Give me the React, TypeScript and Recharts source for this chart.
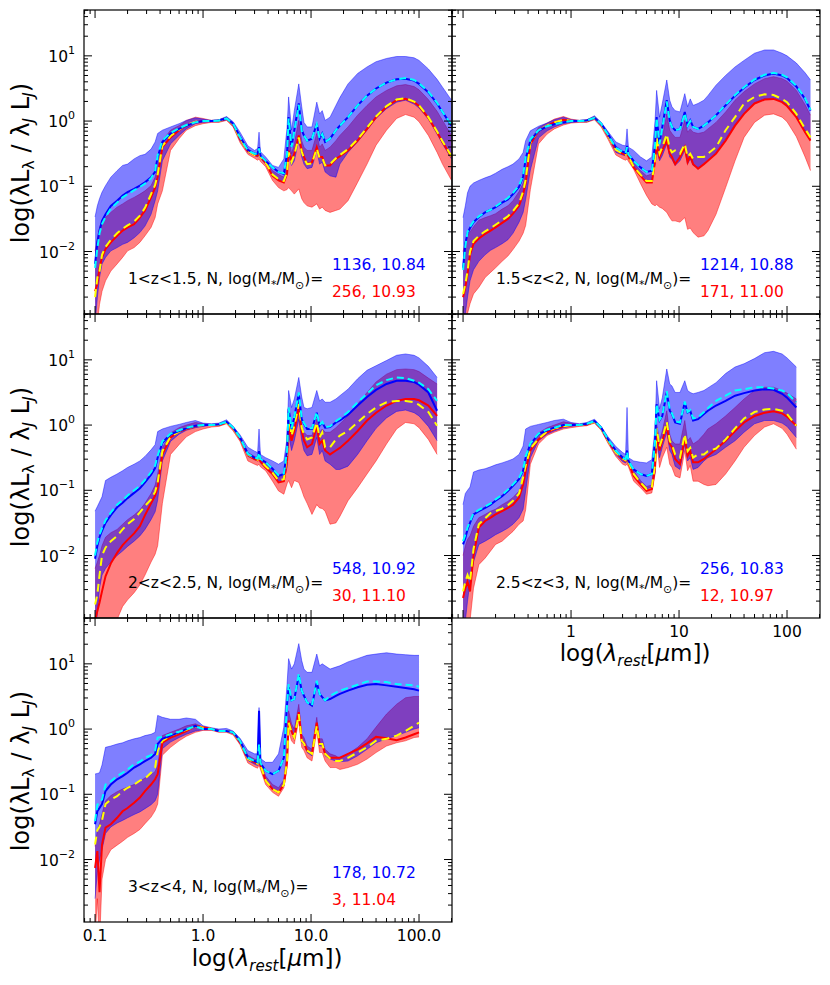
import React from "react";
import { Area, ComposedChart, Line, XAxis, YAxis } from "recharts";

// stacked SED templates, log(lambda L_lambda / lambda_J L_J) vs rest wavelength
const N = null;

const WAVE = [
  0.1, 0.105, 0.11, 0.116, 0.125, 0.14, 0.16, 0.18, 0.2, 0.23, 0.26, 0.29, 0.33, 0.36, 0.38, 0.42, 0.5, 0.6, 0.7, 0.85, 1.0,
  1.2, 1.4, 1.65, 1.9, 2.2, 2.6, 3.0, 3.2, 3.3, 3.4, 3.8, 4.4, 5.0, 5.6,
  6.0, 6.2, 6.6, 7.0, 7.7, 8.2, 8.6, 9.2, 10.2, 11.3, 12.0, 12.7, 13.5, 15, 17, 18.5,
  22, 27, 33, 40, 50, 62, 75, 90, 100, 122, 147, 165, 200,
];

// ---- 1 < z < 1.5 ----
const Z1_BHI = [
  -1.47, -1.3, -1.19, -1.09, -0.99, -0.86, -0.76, -0.68, -0.66, -0.58, -0.53, -0.51, -0.43, -0.32, -0.19, -0.14, -0.09, -0.04, 0.01, 0.05, 0.03,
  0.01, 0.02, 0.07, -0.01, -0.17, -0.38, -0.45, -0.42, -0.17, -0.47, -0.55, -0.68, -0.71, -0.58,
  -0.1, 0.37, -0.14, 0.16, 0.57, 0.22, -0.02, -0.09, -0.09, 0.29, 0.11, 0.16, 0.01, 0.06, 0.24, 0.36,
  0.57, 0.73, 0.83, 0.91, 0.96, 0.99, 0.99, 0.97, 0.93, 0.8, 0.64, 0.52, 0.32,
];
const Z1_BLO = [
  -3.1, -2.71, -2.4, -2.19, -2.09, -1.99, -1.94, -1.89, -1.86, -1.79, -1.71, -1.61, -1.43, -1.22, -1.07, -0.61, -0.35, -0.22, -0.12, -0.04, -0.02,
  -0.01, -0.01, 0.02, -0.07, -0.3, -0.48, -0.53, -0.55, -0.52, -0.57, -0.66, -0.84, -0.91, -0.94,
  -0.8, -0.55, -0.68, -0.61, -0.3, -0.55, -0.66, -0.73, -0.71, -0.45, -0.66, -0.63, -0.78, -0.84, -0.86, -0.66,
  -0.48, -0.32, -0.14, 0.04, 0.19, 0.29, 0.32, 0.26, 0.2, 0.03, -0.2, -0.35, -0.58,
];
const Z1_RHI = [
  -1.99, -1.8, -1.63, -1.53, -1.48, -1.4, -1.32, -1.27, -1.22, -1.17, -1.12, -1.07, -0.99, -0.86, -0.71, -0.3, -0.14, -0.07, 0.01, 0.06, 0.04,
  0.01, 0.02, 0.06, -0.03, -0.25, -0.45, -0.5, -0.5, -0.45, -0.53, -0.62, -0.76, -0.82, -0.86,
  -0.61, -0.19, -0.5, -0.35, 0.01, -0.3, -0.4, -0.45, -0.45, -0.19, -0.4, -0.35, -0.45, -0.4, -0.3, -0.22,
  -0.09, 0.09, 0.24, 0.37, 0.47, 0.54, 0.56, 0.53, 0.48, 0.33, 0.15, 0.01, -0.22,
];
const Z1_RLO = [
  -3.3, -3.1, -2.81, -2.61, -2.45, -2.3, -2.19, -2.09, -1.99, -1.94, -1.86, -1.76, -1.63, -1.48, -1.27, -1.07, -0.45, -0.27, -0.14, -0.07, -0.04,
  -0.02, -0.02, 0.01, -0.09, -0.33, -0.51, -0.57, -0.6, -0.58, -0.62, -0.7, -0.91, -1.02, -1.07,
  -1.05, -1.02, -1.07, -1.12, -1.04, -1.19, -1.25, -1.3, -1.32, -1.27, -1.35, -1.32, -1.37, -1.4, -1.37, -1.35,
  -1.22, -0.94, -0.66, -0.37, -0.14, 0.04, 0.1, 0.06, -0.01, -0.22, -0.48, -0.66, -0.91,
];
const Z1_BLUE = [
  -2.19, -1.86, -1.68, -1.53, -1.43, -1.3, -1.22, -1.14, -1.09, -1.04, -0.99, -0.94, -0.86, -0.78, -0.55, -0.32, -0.19, -0.12, -0.07, -0.02, 0,
  0, 0.01, 0.04, -0.04, -0.24, -0.44, -0.5, -0.5, -0.4, -0.53, -0.61, -0.71, -0.78, -0.81,
  -0.5, 0.06, -0.4, -0.14, 0.27, -0.14, -0.22, -0.3, -0.27, -0.04, -0.27, -0.19, -0.32, -0.27, -0.14, -0.07,
  0.06, 0.24, 0.39, 0.5, 0.59, 0.64, 0.65, 0.62, 0.57, 0.44, 0.27, 0.14, -0.07,
];
const Z1_CYAN = [
  -2.25, -1.95, -1.72, -1.58, -1.47, -1.34, -1.25, -1.17, -1.12, -1.06, -1.01, -0.96, -0.88, -0.76, -0.52, -0.3, -0.18, -0.11, -0.06, -0.02, 0,
  0, 0.01, 0.04, -0.04, -0.25, -0.45, -0.5, -0.5, -0.42, -0.53, -0.61, -0.71, -0.78, -0.8,
  -0.5, 0.04, -0.4, -0.15, 0.25, -0.15, -0.22, -0.3, -0.27, -0.05, -0.27, -0.2, -0.32, -0.27, -0.14, -0.07,
  0.06, 0.24, 0.39, 0.5, 0.59, 0.64, 0.66, 0.63, 0.58, 0.45, 0.28, 0.14, -0.06,
];
const Z1_RED = [
  -2.61, -2.5, -2.25, -2.09, -1.96, -1.86, -1.76, -1.68, -1.63, -1.58, -1.48, -1.37, -1.17, -1.02, -0.86, -0.4, -0.25, -0.14, -0.07, -0.02, 0,
  0, 0, 0.04, -0.05, -0.27, -0.46, -0.52, -0.53, -0.48, -0.55, -0.64, -0.84, -0.91, -0.94,
  -0.81, -0.45, -0.61, -0.5, -0.22, -0.45, -0.55, -0.66, -0.63, -0.4, -0.55, -0.55, -0.68, -0.68, -0.58, -0.54,
  -0.45, -0.3, -0.12, 0.06, 0.22, 0.32, 0.34, 0.29, 0.23, 0.05, -0.17, -0.32, -0.55,
];
const Z1_YELLOW = [
  -2.7, -2.4, -2.3, -2.05, -1.93, -1.82, -1.72, -1.65, -1.6, -1.54, -1.45, -1.33, -1.12, -0.98, -0.82, -0.38, -0.23, -0.13, -0.06, -0.01, 0,
  0, 0, 0.04, -0.05, -0.27, -0.46, -0.52, -0.53, -0.48, -0.55, -0.64, -0.82, -0.89, -0.92,
  -0.78, -0.48, -0.63, -0.52, -0.25, -0.47, -0.57, -0.66, -0.65, -0.42, -0.57, -0.56, -0.68, -0.66, -0.57, -0.52,
  -0.43, -0.28, -0.1, 0.07, 0.23, 0.33, 0.35, 0.3, 0.24, 0.06, -0.16, -0.31, -0.54,
];

// ---- 1.5 < z < 2 ----
const Z2_BHI = [
  -1.48, -1.3, -1.1, -1.0, -0.95, -0.91, -0.87, -0.84, -0.8, -0.74, -0.7, -0.66, -0.58, -0.48, -0.3, -0.15, -0.08, -0.03, 0.02, 0.06, 0.02,
  0.01, 0.02, 0.08, -0.02, -0.16, -0.32, -0.37, -0.38, -0.12, -0.4, -0.45, -0.55, -0.61, -0.55,
  0.01, 0.47, 0.06, 0.27, 0.63, 0.32, 0.22, 0.16, 0.14, 0.42, 0.22, 0.34, 0.24, 0.27, 0.32, 0.39,
  0.55, 0.7, 0.83, 0.93, 1.04, 1.09, 1.09, 1.04, 1.0, 0.89, 0.74, 0.63, N,
];
const Z2_BLO = [
  -3.2, -2.95, -2.7, -2.45, -2.28, -2.15, -2.05, -1.98, -1.94, -1.88, -1.82, -1.72, -1.55, -1.4, -1.2, -0.75, -0.26, -0.15, -0.09, -0.04, -0.02,
  -0.01, -0.01, 0.03, -0.07, -0.24, -0.48, -0.52, -0.53, -0.5, -0.56, -0.68, -0.81, -0.91, -0.91,
  -0.66, -0.45, -0.61, -0.53, -0.35, -0.55, -0.59, -0.68, -0.61, -0.45, -0.66, -0.58, -0.68, -0.71, -0.66, -0.61,
  -0.48, -0.27, -0.05, 0.12, 0.28, 0.34, 0.35, 0.3, 0.24, 0.07, -0.15, -0.29, N,
];
const Z2_RHI = [
  -2.0, -1.85, -1.75, -1.7, -1.62, -1.52, -1.48, -1.45, -1.42, -1.35, -1.3, -1.22, -1.08, -0.95, -0.78, -0.3, -0.1, -0.03, 0.03, 0.07, 0.03,
  0.01, 0.02, 0.07, -0.03, -0.2, -0.42, -0.48, -0.5, -0.45, -0.52, -0.64, -0.76, -0.84, -0.81,
  -0.5, -0.14, -0.45, -0.25, 0.11, -0.14, -0.19, -0.25, -0.25, 0.01, -0.17, -0.12, -0.17, -0.19, -0.17, -0.12,
  -0.02, 0.14, 0.32, 0.45, 0.57, 0.65, 0.68, 0.65, 0.61, 0.47, 0.25, 0.09, N,
];
const Z2_RLO = [
  -3.3, -3.1, -2.95, -2.8, -2.65, -2.55, -2.4, -2.32, -2.25, -2.15, -2.07, -1.97, -1.84, -1.72, -1.6, -1.05, -0.35, -0.2, -0.12, -0.06, -0.03,
  -0.02, -0.02, 0.02, -0.09, -0.28, -0.52, -0.58, -0.6, -0.58, -0.62, -0.74, -0.96, -1.14, -1.27,
  -1.3, -1.28, -1.32, -1.34, -1.4, -1.48, -1.53, -1.53, -1.55, -1.48, -1.66, -1.64, -1.71, -1.78, -1.76, -1.68,
  -1.43, -1.02, -0.61, -0.25, -0.02, 0.09, 0.11, 0.06, -0.01, -0.24, -0.55, -0.76, N,
];
const Z2_BLUE = [
  -2.25, -1.88, -1.72, -1.64, -1.55, -1.47, -1.4, -1.36, -1.32, -1.25, -1.2, -1.12, -1.01, -0.85, -0.58, -0.3, -0.15, -0.08, -0.05, -0.02, 0,
  0, 0.01, 0.05, -0.04, -0.2, -0.4, -0.47, -0.49, -0.38, -0.51, -0.61, -0.71, -0.78, -0.76,
  -0.35, 0.06, -0.35, -0.09, 0.32, 0.01, -0.09, -0.14, -0.12, 0.14, -0.07, 0.01, -0.09, -0.12, -0.07, -0.02,
  0.09, 0.24, 0.39, 0.51, 0.63, 0.7, 0.73, 0.7, 0.66, 0.53, 0.34, 0.16, N,
];
const Z2_CYAN = [
  -2.28, -1.92, -1.7, -1.62, -1.54, -1.46, -1.4, -1.36, -1.31, -1.24, -1.18, -1.1, -0.99, -0.83, -0.55, -0.28, -0.14, -0.08, -0.05, -0.02, 0,
  0, 0.01, 0.05, -0.04, -0.21, -0.41, -0.47, -0.49, -0.4, -0.51, -0.61, -0.71, -0.78, -0.76,
  -0.36, 0.05, -0.35, -0.1, 0.3, 0.0, -0.09, -0.14, -0.12, 0.12, -0.07, 0.0, -0.09, -0.12, -0.07, -0.02,
  0.09, 0.25, 0.4, 0.52, 0.64, 0.71, 0.74, 0.71, 0.67, 0.54, 0.35, 0.17, N,
];
const Z2_RED = [
  -2.7, -2.55, -2.35, -2.05, -1.88, -1.8, -1.73, -1.68, -1.63, -1.56, -1.5, -1.42, -1.3, -1.12, -0.95, -0.35, -0.15, -0.07, -0.02, 0.02, 0,
  0, 0, 0.05, -0.05, -0.22, -0.44, -0.5, -0.52, -0.46, -0.54, -0.71, -0.84, -0.94, -0.94,
  -0.61, -0.35, -0.55, -0.45, -0.3, -0.5, -0.55, -0.66, -0.55, -0.4, -0.63, -0.53, -0.66, -0.73, -0.66, -0.61,
  -0.5, -0.3, -0.07, 0.11, 0.27, 0.33, 0.34, 0.29, 0.23, 0.06, -0.17, -0.3, N,
];
const Z2_YELLOW = [
  -2.65, -2.5, -2.3, -2.0, -1.84, -1.76, -1.69, -1.64, -1.59, -1.52, -1.46, -1.38, -1.26, -1.08, -0.9, -0.33, -0.14, -0.07, -0.02, 0.02, 0,
  0, 0, 0.05, -0.05, -0.22, -0.44, -0.5, -0.52, -0.46, -0.54, -0.7, -0.82, -0.92, -0.92,
  -0.58, -0.25, -0.5, -0.4, -0.2, -0.42, -0.48, -0.45, -0.5, -0.35, -0.55, -0.5, -0.58, -0.55, -0.55, -0.5,
  -0.4, -0.14, 0.06, 0.27, 0.37, 0.41, 0.4, 0.34, 0.29, 0.11, -0.12, -0.25, N,
];

// ---- 2 < z < 2.5 ----
const Z3_BHI = [
  -1.32, -1.25, -1.18, -1.1, -0.85, -0.8, -0.75, -0.7, -0.65, -0.6, -0.55, -0.48, -0.38, -0.3, -0.1, -0.06, -0.02, 0.01, 0.04, 0.07, 0.03,
  0.02, 0.03, 0.08, -0.02, -0.15, -0.34, -0.4, -0.42, -0.06, -0.45, -0.5, -0.55, -0.6, -0.55,
  -0.2, 0.53, 0.27, 0.4, 0.73, 0.43, 0.27, 0.25, 0.27, 0.53, 0.37, 0.4, 0.35, 0.35, 0.4, 0.45,
  0.55, 0.71, 0.84, 0.91, 0.99, 1.07, 1.09, 1.07, 1.03, 0.9, 0.73, N, N,
];
const Z3_BLO = [
  -3.2, -2.9, -2.5, -2.3, -2.2, -2.1, -2.0, -1.93, -1.86, -1.78, -1.7, -1.6, -1.45, -1.33, -1.15, -0.55, -0.25, -0.14, -0.08, -0.04, -0.02,
  0, 0, 0.04, -0.06, -0.22, -0.48, -0.53, -0.55, -0.5, -0.58, -0.66, -0.76, -0.86, -0.84,
  -0.65, -0.14, -0.39, -0.24, 0.09, -0.24, -0.39, -0.47, -0.45, -0.19, -0.45, -0.39, -0.55, -0.6, -0.68, -0.68,
  -0.63, -0.45, -0.24, -0.05, 0.11, 0.21, 0.23, 0.19, 0.14, -0.02, -0.24, N, N,
];
const Z3_RHI = [
  -2.2, -2.1, -2.0, -1.85, -1.72, -1.65, -1.6, -1.52, -1.45, -1.38, -1.3, -1.2, -1.05, -0.92, -0.75, -0.35, -0.12, -0.04, 0.0, 0.04, 0.02,
  0.01, 0.02, 0.06, -0.04, -0.18, -0.42, -0.48, -0.5, -0.44, -0.52, -0.6, -0.7, -0.8, -0.78,
  -0.45, 0.12, -0.19, -0.01, 0.37, -0.01, -0.11, -0.16, -0.16, 0.09, -0.11, -0.06, -0.11, -0.11, -0.04, 0.02,
  0.14, 0.32, 0.5, 0.66, 0.78, 0.85, 0.86, 0.85, 0.82, 0.72, 0.63, N, N,
];
const Z3_RLO = [
  -3.3, -3.3, -3.3, -3.3, -3.2, -3.1, -2.98, -2.78, -2.68, -2.57, -2.45, -2.3, -2.1, -1.98, -1.85, -1.2, -0.45, -0.3, -0.18, -0.1, -0.06,
  -0.03, -0.02, 0.02, -0.09, -0.25, -0.55, -0.6, -0.62, -0.6, -0.64, -0.7, -0.86, -1.01, -1.06,
  -0.9, -0.85, -0.96, -0.85, -0.88, -1.0, -1.1, -1.2, -1.37, -1.22, -1.27, -1.28, -1.32, -1.52, -1.5, -1.4,
  -1.16, -0.96, -0.75, -0.55, -0.29, -0.06, 0.04, 0.02, -0.04, -0.22, -0.45, N, N,
];
const Z3_BLUE = [
  -2.05, -1.85, -1.72, -1.62, -1.5, -1.38, -1.26, -1.19, -1.12, -1.04, -0.97, -0.88, -0.76, -0.66, -0.5, -0.27, -0.14, -0.09, -0.05, -0.01, 0,
  0, 0.01, 0.05, -0.04, -0.19, -0.44, -0.5, -0.51, -0.4, -0.52, -0.57, -0.67, -0.78, -0.75,
  -0.39, 0.25, -0.06, 0.12, 0.48, 0.09, 0.02, -0.06, -0.06, 0.19, -0.01, 0.04, -0.04, -0.03, 0.04, 0.07,
  0.16, 0.3, 0.43, 0.54, 0.63, 0.68, 0.68, 0.66, 0.62, 0.5, 0.22, N, N,
];
const Z3_CYAN = [
  -2.0, -1.8, -1.68, -1.58, -1.46, -1.34, -1.22, -1.15, -1.08, -1.0, -0.93, -0.84, -0.72, -0.62, -0.47, -0.25, -0.13, -0.08, -0.04, -0.01, 0,
  0, 0.01, 0.05, -0.04, -0.19, -0.44, -0.5, -0.51, -0.42, -0.52, -0.57, -0.67, -0.77, -0.74,
  -0.39, 0.27, -0.05, 0.13, 0.5, 0.1, 0.03, -0.05, -0.05, 0.2, 0.0, 0.05, -0.03, -0.02, 0.06, 0.1,
  0.2, 0.35, 0.48, 0.61, 0.69, 0.73, 0.72, 0.68, 0.65, 0.55, 0.37, N, N,
];
const Z3_RED = [
  -3.0, -2.85, -2.72, -2.55, -2.32, -2.12, -1.96, -1.84, -1.76, -1.66, -1.55, -1.38, -1.2, -1.08, -0.96, -0.45, -0.19, -0.1, -0.06, -0.02, 0,
  0, 0, 0.04, -0.05, -0.2, -0.46, -0.52, -0.54, -0.5, -0.56, -0.65, -0.75, -0.88, -0.86,
  -0.55, 0.02, -0.24, -0.09, 0.27, -0.09, -0.24, -0.34, -0.29, -0.01, -0.29, -0.24, -0.39, -0.45, -0.39, -0.35,
  -0.24, -0.09, 0.07, 0.19, 0.3, 0.37, 0.4, 0.4, 0.38, 0.3, 0.14, N, N,
];
const Z3_YELLOW = [
  -2.75, -2.6, -2.3, -2.0, -1.88, -1.78, -1.7, -1.6, -1.52, -1.44, -1.34, -1.24, -1.14, -1.02, -0.88, -0.4, -0.18, -0.1, -0.05, -0.02, 0,
  0, 0, 0.04, -0.05, -0.2, -0.45, -0.51, -0.53, -0.48, -0.55, -0.63, -0.73, -0.85, -0.83,
  -0.45, 0.17, -0.16, -0.01, 0.32, -0.04, -0.14, -0.22, -0.19, 0.04, -0.19, -0.11, -0.34, -0.34, -0.22, -0.16,
  -0.09, 0.04, 0.17, 0.27, 0.35, 0.37, 0.37, 0.35, 0.31, 0.2, -0.01, N, N,
];

// ---- 2.5 < z < 3 ----
const Z4_BHI = [
  -1.22, -1.05, -1.0, -0.95, -0.72, -0.69, -0.67, -0.64, -0.61, -0.58, -0.55, -0.52, -0.45, -0.32, -0.06, -0.02, 0.01, 0.04, 0.07, 0.09, 0.04,
  0.02, 0.04, 0.09, -0.02, -0.18, -0.33, -0.42, -0.45, 0.27, -0.5, -0.55, -0.57, -0.58, -0.53,
  -0.05, 0.68, 0.25, 0.42, 0.86, 0.63, 0.6, 0.5, 0.5, 0.68, 0.53, 0.5, 0.48, 0.5, 0.53, 0.57,
  0.65, 0.79, 0.89, 0.94, 1.02, 1.11, 1.13, 1.09, 1.03, 0.89, N, N, N,
];
const Z4_BLO = [
  -3.3, -3.0, -2.7, -2.4, -2.1, -1.83, -1.78, -1.73, -1.68, -1.63, -1.58, -1.52, -1.42, -1.29, -1.01, -0.5, -0.24, -0.14, -0.09, -0.04, -0.02,
  0, 0, 0.04, -0.06, -0.26, -0.45, -0.56, -0.58, -0.55, -0.6, -0.72, -0.88, -0.98, -0.95,
  -0.73, -0.24, -0.5, -0.34, -0.11, -0.39, -0.45, -0.63, -0.68, -0.29, -0.55, -0.5, -0.68, -0.65, -0.55, -0.5,
  -0.45, -0.34, -0.24, -0.11, 0.02, 0.07, 0.07, 0.03, -0.02, -0.19, N, N, N,
];
const Z4_RHI = [
  -2.0, -1.85, -1.75, -1.7, -1.55, -1.42, -1.37, -1.32, -1.29, -1.22, -1.17, -1.11, -1.01, -0.86, -0.6, -0.34, -0.12, -0.04, 0.0, 0.05, 0.03,
  0.01, 0.03, 0.07, -0.03, -0.22, -0.4, -0.48, -0.5, -0.44, -0.53, -0.7, -0.85, -0.94, -0.92,
  -0.39, 0.02, -0.24, -0.09, 0.22, -0.14, -0.24, -0.29, -0.29, 0.07, -0.24, -0.19, -0.29, -0.24, -0.14, -0.06,
  0.02, 0.14, 0.27, 0.4, 0.53, 0.58, 0.58, 0.53, 0.49, 0.4, N, N, N,
];
const Z4_RLO = [
  -3.3, -3.3, -3.3, -3.0, -2.5, -2.14, -2.04, -1.93, -1.83, -1.78, -1.7, -1.63, -1.52, -1.47, -1.3, -0.6, -0.29, -0.16, -0.11, -0.06, -0.04,
  -0.02, -0.01, 0.03, -0.08, -0.28, -0.48, -0.6, -0.62, -0.6, -0.64, -0.86, -0.96, -1.06, -1.04,
  -0.75, -0.24, -0.65, -0.5, -0.34, -0.6, -0.65, -0.78, -0.81, -0.39, -0.7, -0.62, -0.86, -0.86, -0.91, -0.93,
  -0.91, -0.75, -0.55, -0.34, -0.16, -0.03, 0.02, -0.05, -0.14, -0.37, N, N, N,
];
const Z4_BLUE = [
  -1.83, -1.73, -1.6, -1.5, -1.37, -1.32, -1.27, -1.22, -1.16, -1.09, -1.01, -0.93, -0.83, -0.7, -0.5, -0.29, -0.14, -0.08, -0.04, 0, 0,
  0, 0.02, 0.06, -0.04, -0.22, -0.39, -0.5, -0.52, -0.39, -0.55, -0.68, -0.75, -0.78, -0.75,
  -0.24, 0.32, 0.07, 0.14, 0.5, 0.22, 0.17, 0.04, 0.02, 0.35, 0.19, 0.22, 0.07, 0.09, 0.17, 0.22,
  0.3, 0.37, 0.45, 0.49, 0.53, 0.55, 0.54, 0.48, 0.42, 0.27, N, N, N,
];
const Z4_CYAN = [
  -1.78, -1.68, -1.57, -1.48, -1.35, -1.3, -1.25, -1.2, -1.14, -1.07, -0.99, -0.91, -0.81, -0.68, -0.48, -0.28, -0.13, -0.07, -0.04, 0, 0,
  0, 0.02, 0.06, -0.04, -0.22, -0.39, -0.5, -0.52, -0.41, -0.55, -0.68, -0.75, -0.78, -0.75,
  -0.24, 0.32, 0.08, 0.15, 0.52, 0.24, 0.18, 0.06, 0.04, 0.36, 0.2, 0.23, 0.1, 0.12, 0.2, 0.26,
  0.37, 0.45, 0.53, 0.55, 0.58, 0.58, 0.56, 0.53, 0.49, 0.35, N, N, N,
];
const Z4_RED = [
  -2.65, -2.5, -2.4, -2.55, -2.0, -1.57, -1.47, -1.42, -1.37, -1.32, -1.27, -1.22, -1.11, -0.91, -0.7, -0.39, -0.22, -0.11, -0.06, -0.02, 0,
  0, 0.01, 0.05, -0.05, -0.24, -0.42, -0.52, -0.55, -0.5, -0.58, -0.78, -0.91, -1.01, -0.98,
  -0.65, -0.11, -0.39, -0.24, -0.01, -0.29, -0.34, -0.52, -0.6, -0.19, -0.47, -0.4, -0.57, -0.57, -0.52, -0.47,
  -0.37, -0.24, -0.09, 0.04, 0.14, 0.19, 0.21, 0.18, 0.13, -0.01, N, N, N,
];
const Z4_YELLOW = [
  -2.55, -2.4, -2.3, -2.4, -1.9, -1.52, -1.43, -1.35, -1.32, -1.28, -1.23, -1.16, -1.05, -0.8, -0.62, -0.36, -0.21, -0.1, -0.05, -0.02, 0,
  0, 0.01, 0.05, -0.05, -0.24, -0.42, -0.51, -0.54, -0.48, -0.57, -0.75, -0.88, -0.98, -0.95,
  -0.6, -0.05, -0.33, -0.2, 0.05, -0.24, -0.3, -0.45, -0.5, -0.14, -0.4, -0.35, -0.5, -0.45, -0.45, -0.4,
  -0.36, -0.22, -0.05, 0.1, 0.2, 0.24, 0.25, 0.22, 0.17, -0.01, N, N, N,
];

// ---- 3 < z < 4 ----
const Z5_BHI = [
  -0.69, -0.68, -0.67, -0.55, -0.28, -0.26, -0.23, -0.21, -0.18, -0.15, -0.13, -0.1, -0.08, -0.05, 0.21, 0.18, 0.15, 0.15, 0.17, 0.15, 0.05,
  0.02, 0.0, 0.01, -0.03, -0.14, -0.33, -0.38, -0.38, 0.33, -0.45, -0.51, -0.51, -0.38, 0.03,
  0.69, 1.08, 0.92, 1.0, 1.31, 1.05, 0.92, 0.87, 0.87, 1.15, 0.97, 1.0, 0.97, 0.92, 0.95, 0.97,
  1.03, 1.08, 1.13, 1.15, 1.17, 1.15, 1.14, 1.13, 1.13, N, N, N, N,
];
const Z5_BLO = [
  -2.6, -2.2, -2.0, -1.85, -1.6, -1.5, -1.44, -1.4, -1.36, -1.31, -1.27, -1.22, -1.16, -1.1, -1.0, -0.3, -0.2, -0.13, -0.08, -0.03, -0.01,
  -0.01, -0.04, -0.04, -0.07, -0.22, -0.48, -0.54, -0.56, -0.5, -0.58, -0.8, -0.93, -0.98, -0.86,
  -0.5, 0.1, -0.06, -0.16, 0.23, -0.21, -0.23, -0.36, -0.41, 0.08, -0.26, -0.26, -0.41, -0.46, -0.49, -0.5,
  -0.49, -0.41, -0.31, -0.21, -0.15, -0.1, -0.05, 0.0, 0.02, N, N, N, N,
];
const Z5_RHI = [
  -1.8, -1.55, -1.45, -1.3, -1.1, -1.02, -0.96, -0.92, -0.89, -0.85, -0.8, -0.75, -0.7, -0.65, -0.55, -0.1, -0.05, 0.0, 0.05, 0.08, 0.03,
  0.01, -0.02, -0.02, -0.04, -0.16, -0.4, -0.46, -0.47, -0.42, -0.5, -0.72, -0.85, -0.9, -0.78,
  -0.3, 0.28, 0.08, 0.0, 0.38, -0.08, -0.13, -0.26, -0.31, 0.18, -0.15, -0.15, -0.31, -0.38, -0.41, -0.46,
  -0.38, -0.28, -0.15, 0.03, 0.23, 0.38, 0.48, 0.5, 0.5, N, N, N, N,
];
const Z5_RLO = [
  -3.2, -2.6, -3.3, -2.3, -2.0, -1.85, -1.78, -1.72, -1.66, -1.6, -1.54, -1.45, -1.35, -1.25, -1.15, -0.4, -0.28, -0.18, -0.11, -0.05, -0.02,
  -0.02, -0.05, -0.05, -0.09, -0.24, -0.52, -0.58, -0.6, -0.55, -0.62, -0.85, -0.97, -1.03, -0.9,
  -0.6, -0.03, -0.18, -0.23, 0.13, -0.28, -0.33, -0.44, -0.49, -0.03, -0.36, -0.36, -0.49, -0.59, -0.59, -0.62,
  -0.59, -0.54, -0.46, -0.36, -0.26, -0.21, -0.18, -0.13, -0.12, N, N, N, N,
];
const Z5_BLUE = [
  -1.46, -1.26, -1.21, -1.15, -0.95, -0.85, -0.77, -0.72, -0.67, -0.59, -0.54, -0.49, -0.44, -0.38, -0.23, -0.15, -0.1, -0.05, 0.0, 0.05, 0,
  0, -0.03, -0.03, -0.05, -0.18, -0.44, -0.49, -0.51, 0.28, -0.52, -0.64, -0.69, -0.64, -0.44,
  0.38, 0.64, 0.44, 0.46, 0.82, 0.59, 0.51, 0.41, 0.36, 0.72, 0.54, 0.49, 0.44, 0.46, 0.51, 0.54,
  0.59, 0.64, 0.68, 0.69, 0.67, 0.65, 0.63, 0.61, 0.59, N, N, N, N,
];
const Z5_CYAN = [
  -1.41, -1.16, -1.12, -1.08, -0.85, -0.8, -0.72, -0.67, -0.62, -0.54, -0.5, -0.44, -0.4, -0.33, -0.13, -0.12, -0.08, -0.04, 0.0, 0.04, 0,
  0, -0.03, -0.03, -0.05, -0.18, -0.44, -0.49, -0.51, -0.23, -0.52, -0.64, -0.69, -0.64, -0.44,
  0.38, 0.69, 0.44, 0.46, 0.85, 0.59, 0.51, 0.41, 0.36, 0.74, 0.54, 0.49, 0.44, 0.51, 0.56, 0.59,
  0.63, 0.68, 0.73, 0.73, 0.72, 0.69, 0.68, 0.67, 0.65, N, N, N, N,
];
const Z5_RED = [
  -2.13, -1.87, -2.5, -1.77, -1.51, -1.46, -1.36, -1.26, -1.21, -1.13, -1.05, -0.95, -0.85, -0.77, -0.69, -0.21, -0.13, -0.08, -0.03, 0.05, 0.03,
  0, -0.03, -0.03, -0.05, -0.2, -0.46, -0.51, -0.53, -0.47, -0.55, -0.79, -0.92, -0.97, -0.85,
  -0.5, 0.13, -0.03, -0.13, 0.26, -0.18, -0.21, -0.33, -0.38, 0.1, -0.23, -0.23, -0.38, -0.44, -0.44, -0.44,
  -0.38, -0.31, -0.22, -0.12, -0.14, -0.17, -0.13, -0.08, -0.05, N, N, N, N,
];
const Z5_YELLOW = [
  -1.77, -1.55, -1.5, -1.4, -1.15, -1.08, -1.03, -0.95, -0.9, -0.85, -0.79, -0.76, -0.67, -0.59, -0.33, -0.18, -0.1, -0.05, -0.01, 0.04, 0.02,
  0, -0.03, -0.03, -0.05, -0.2, -0.46, -0.51, -0.53, -0.47, -0.55, -0.79, -0.92, -0.97, -0.85,
  -0.48, 0.1, -0.05, -0.13, 0.23, -0.18, -0.22, -0.33, -0.38, 0.05, -0.23, -0.23, -0.38, -0.45, -0.49, -0.49,
  -0.44, -0.36, -0.28, -0.18, -0.15, -0.1, -0.03, 0.05, 0.1, N, N, N, N,
];

const Z_RANGES = ["1<z<1.5", "1.5<z<2", "2<z<2.5", "2.5<z<3", "3<z<4"];
const BLUE_COUNTS = ["1136, 10.84", "1214, 10.88", "548, 10.92", "256, 10.83", "178, 10.72"];
const RED_COUNTS = ["256, 10.93", "171, 11.00", "30, 11.10", "12, 10.97", "3, 11.04"];

const X_MAJOR = [0.1, 1, 10, 100];
const X_LABELS_LEFT = ["0.1", "1.0", "10.0", "100.0"];
const X_LABELS_RIGHT = ["", "1", "10", "100"];
const Y_MAJOR = [-2, -1, 0, 1];
const Y_EXPONENTS = ["\u22122", "\u22121", "0", "1"];

const X_DOMAIN = [0.079, 202];
const Y_DOMAIN = [-2.958, 1.703];
const PW = 368;
const PH = 304;
const FONT = "DejaVu Sans, sans-serif";

const X_TICKS: number[] = [];
for (let e = -2; e <= 2; e++) {
  for (let k = 1; k <= 9; k++) {
    const v = +(k * Math.pow(10, e)).toPrecision(3);
    if (v >= X_DOMAIN[0] && v <= X_DOMAIN[1]) X_TICKS.push(v);
  }
}
const Y_TICKS: number[] = [];
for (let n = -3; n <= 1; n++) {
  for (let k = 1; k <= 9; k++) {
    const v = n + Math.log10(k);
    if (v >= Y_DOMAIN[0] && v <= Y_DOMAIN[1]) Y_TICKS.push(v);
  }
}

const PANELS = [
  { left: 84, top: 10, s: [Z1_BHI, Z1_BLO, Z1_RHI, Z1_RLO, Z1_BLUE, Z1_CYAN, Z1_RED, Z1_YELLOW], xLabels: null, yLabels: true },
  { left: 452, top: 10, s: [Z2_BHI, Z2_BLO, Z2_RHI, Z2_RLO, Z2_BLUE, Z2_CYAN, Z2_RED, Z2_YELLOW], xLabels: null, yLabels: false },
  { left: 84, top: 314, s: [Z3_BHI, Z3_BLO, Z3_RHI, Z3_RLO, Z3_BLUE, Z3_CYAN, Z3_RED, Z3_YELLOW], xLabels: null, yLabels: true },
  { left: 452, top: 314, s: [Z4_BHI, Z4_BLO, Z4_RHI, Z4_RLO, Z4_BLUE, Z4_CYAN, Z4_RED, Z4_YELLOW], xLabels: X_LABELS_RIGHT, yLabels: false },
  { left: 84, top: 618, s: [Z5_BHI, Z5_BLO, Z5_RHI, Z5_RLO, Z5_BLUE, Z5_CYAN, Z5_RED, Z5_YELLOW], xLabels: X_LABELS_LEFT, yLabels: true },
];

function XTick(props: any) {
  const { x, y, payload, labels } = props;
  const i = X_MAJOR.indexOf(payload.value);
  const len = i >= 0 ? 8 : 4;
  return (
    <g>
      <line x1={x} x2={x} y1={y} y2={y - len} stroke="#000" strokeWidth={1} />
      <line x1={x} x2={x} y1={y - PH} y2={y - PH + len} stroke="#000" strokeWidth={1} />
      {labels && i >= 0 && labels[i] ? (
        <text x={x} y={y + 19} textAnchor="middle" fontSize={15.5} fontFamily={FONT} fill="#000">
          {labels[i]}
        </text>
      ) : null}
    </g>
  );
}

function YTick(props: any) {
  const { x, y, payload, showLabels } = props;
  const i = Y_MAJOR.indexOf(payload.value);
  const len = i >= 0 ? 8 : 4;
  return (
    <g>
      <line x1={x} x2={x + len} y1={y} y2={y} stroke="#000" strokeWidth={1} />
      <line x1={x + PW} x2={x + PW - len} y1={y} y2={y} stroke="#000" strokeWidth={1} />
      {showLabels && i >= 0 ? (
        <text x={x - 9} y={y + 6} textAnchor="end" fontSize={15.5} fontFamily={FONT} fill="#000">
          <tspan>10</tspan>
          <tspan dy={-8} fontSize={11}>
            {Y_EXPONENTS[i]}
          </tspan>
        </text>
      ) : null}
    </g>
  );
}

function Panel({ p }: { p: (typeof PANELS)[number] }) {
  const [bHi, bLo, rHi, rLo, blue, cyan, red, yellow] = p.s;
  const data = WAVE.map((w, i) => ({
    w,
    rBand: rLo[i] === null ? null : [rLo[i], rHi[i]],
    bBand: bLo[i] === null ? null : [bLo[i], bHi[i]],
    blue: blue[i],
    cyan: cyan[i],
    red: red[i],
    yellow: yellow[i],
  }));
  return (
    <div style={{ position: "absolute", left: 0, top: 0 }}>
      <ComposedChart
        width={830}
        height={985}
        data={data}
        margin={{ left: p.left - 60, top: p.top, right: 830 - p.left - PW, bottom: 985 - p.top - PH - 30 }}
      >
        <XAxis
          dataKey="w"
          type="number"
          scale="log"
          domain={X_DOMAIN}
          allowDataOverflow
          ticks={X_TICKS}
          interval={0}
          height={30}
          axisLine={false}
          tickLine={false}
          tickSize={0}
          tickMargin={0}
          tick={<XTick labels={p.xLabels} />}
        />
        <YAxis
          type="number"
          domain={Y_DOMAIN}
          allowDataOverflow
          ticks={Y_TICKS}
          interval={0}
          width={60}
          axisLine={false}
          tickLine={false}
          tickSize={0}
          tickMargin={0}
          tick={<YTick showLabels={p.yLabels} />}
        />
        <Area
          dataKey="rBand"
          type="linear"
          fill="#ff0000"
          fillOpacity={0.5}
          stroke="#ff0000"
          strokeOpacity={0.45}
          strokeWidth={1}
          isAnimationActive={false}
          activeDot={false}
        />
        <Area
          dataKey="bBand"
          type="linear"
          fill="#0000ff"
          fillOpacity={0.5}
          stroke="#0000ff"
          strokeOpacity={0.45}
          strokeWidth={1}
          isAnimationActive={false}
          activeDot={false}
        />
        <Line dataKey="red" type="linear" stroke="#ff0000" strokeWidth={2} dot={false} activeDot={false} isAnimationActive={false} />
        <Line dataKey="yellow" type="linear" stroke="#ffff00" strokeWidth={2} strokeDasharray="8 5" dot={false} activeDot={false} isAnimationActive={false} />
        <Line dataKey="blue" type="linear" stroke="#0000ff" strokeWidth={2} dot={false} activeDot={false} isAnimationActive={false} />
        <Line dataKey="cyan" type="linear" stroke="#00ffff" strokeWidth={2} strokeDasharray="7 4" dot={false} activeDot={false} isAnimationActive={false} />
      </ComposedChart>
    </div>
  );
}

function YLabel({ cy }: { cy: number }) {
  return (
    <text x={29} y={cy} transform={`rotate(-90, 29, ${cy})`} textAnchor="middle" fontSize={24} fontFamily={FONT} fill="#000">
      log(λL
      <tspan dy={5} fontSize={16}>λ</tspan>
      <tspan dy={-5}> / λ</tspan>
      <tspan dy={5} fontSize={16} fontStyle="italic">J</tspan>
      <tspan dy={-5}> L</tspan>
      <tspan dy={5} fontSize={16} fontStyle="italic">J</tspan>
      <tspan dy={-5}>)</tspan>
    </text>
  );
}

function XLabel({ cx, y }: { cx: number; y: number }) {
  return (
    <text x={cx} y={y} textAnchor="middle" fontSize={23} fontFamily={FONT} fill="#000">
      log(
      <tspan fontStyle="italic">λ</tspan>
      <tspan dy={5} fontSize={15} fontStyle="italic">rest</tspan>
      <tspan dy={-5}>[</tspan>
      <tspan fontStyle="italic">μ</tspan>
      <tspan>m])</tspan>
    </text>
  );
}

export default function App() {
  return (
    <div style={{ position: "absolute", left: 0, top: 0, width: 830, height: 985, background: "#fff" }}>
      {PANELS.map((p, i) => (
        <Panel key={i} p={p} />
      ))}
      <svg width={830} height={985} style={{ position: "absolute", left: 0, top: 0, pointerEvents: "none" }}>
        {PANELS.map((p, i) => (
          <g key={i} fontFamily={FONT} fontSize={15.5}>
            <rect x={p.left} y={p.top} width={PW} height={PH} fill="none" stroke="#000" strokeWidth={1.2} />
            <text x={p.left + 44} y={p.top + 274} fill="#000">
              {Z_RANGES[i]}, N, log(M
              <tspan dy={4} fontSize={11}>*</tspan>
              <tspan dy={-4}>/M</tspan>
              <tspan dy={5} fontSize={11}>⊙</tspan>
              <tspan dy={-5}>)=</tspan>
            </text>
            <text x={p.left + 248} y={p.top + 260} fill="#0000ff">
              {BLUE_COUNTS[i]}
            </text>
            <text x={p.left + 248} y={p.top + 287} fill="#ff0000">
              {RED_COUNTS[i]}
            </text>
          </g>
        ))}
        <YLabel cy={163} />
        <YLabel cy={467} />
        <YLabel cy={771} />
        <XLabel cx={267} y={966} />
        <XLabel cx={635} y={661} />
      </svg>
    </div>
  );
}
